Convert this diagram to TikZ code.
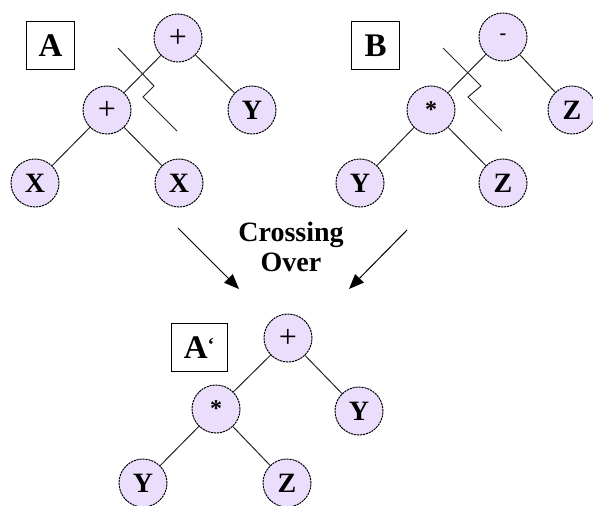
\documentclass[tikz,border=0pt]{standalone}
\usepackage{fontspec}
\setmainfont{Liberation Serif}
\usetikzlibrary{arrows.meta}
\definecolor{nodefill}{RGB}{234,222,252}
\tikzset{
  tn/.style={circle, draw=black, fill=nodefill, line width=1pt,
    dash pattern=on 2.2pt off 0.8pt, minimum size=48pt, inner sep=0pt,
    font=\fontsize{28}{28}\selectfont\bfseries},
  op/.style={font=\fontsize{32}{32}\selectfont},
  lbl/.style={draw=black, line width=1pt, minimum width=48pt, minimum height=48pt,
    inner sep=0pt, font=\fontsize{33}{33}\selectfont\bfseries},
  edge/.style={line width=1pt, draw=black!85},
  cut/.style={line width=1pt, draw=black!85},
  arr/.style={line width=1pt, -{Triangle[length=15pt,width=12pt]}},
}
\begin{document}
\begin{tikzpicture}[x=1pt,y=-1pt]
\useasboundingbox (0,0) rectangle (593,505);
% Tree A
\node[lbl] (boxA) at (50.5,46) {A};
\node[tn,op] (a1) at (178,38) {+};
\node[tn,op] (a2) at (107,110) {+};
\node[tn] (a3) at (252,110) {Y};
\node[tn] (a4) at (35,183) {X};
\node[tn] (a5) at (179,183) {X};
\draw[edge] (a1) -- (a2);
\draw[edge] (a1) -- (a3);
\draw[edge] (a2) -- (a4);
\draw[edge] (a2) -- (a5);
\coordinate (ca1) at (118,48);
\coordinate (ca2) at (154,86);
\coordinate (ca3) at (143,97);
\coordinate (ca4) at (177,131);
\draw[cut] (ca1) -- (ca2) -- (ca3) -- (ca4);
% Tree B
\node[lbl] (boxB) at (375.5,46) {B};
\node[tn,font=\fontsize{20}{20}\selectfont\bfseries] (b1) at (503,37) {-};
\node[tn,font=\fontsize{24}{24}\selectfont\bfseries] (b2) at (431,110) {\raisebox{-6pt}{*}};
\node[tn] (b3) at (572,110) {Z};
\node[tn] (b4) at (360,183) {Y};
\node[tn] (b5) at (503,183) {Z};
\draw[edge] (b1) -- (b2);
\draw[edge] (b1) -- (b3);
\draw[edge] (b2) -- (b4);
\draw[edge] (b2) -- (b5);
\coordinate (cb1) at (443,48);
\coordinate (cb2) at (481,86);
\coordinate (cb3) at (468,97);
\coordinate (cb4) at (502,131);
\draw[cut] (cb1) -- (cb2) -- (cb3) -- (cb4);
% Crossing over
\node[font=\fontsize{28}{30}\selectfont\bfseries, align=center] (cross) at (291,247) {Crossing\\Over};
\coordinate (l1) at (178,228);
\coordinate (l2) at (239,289);
\coordinate (r1) at (407,230);
\coordinate (r2) at (349,289);
\draw[arr] (l1) -- (l2);
\draw[arr] (r1) -- (r2);
% Tree A'
\node[lbl, minimum width=56pt] (boxC) at (199,347.5) {A\raisebox{7pt}{\fontsize{20}{20}\selectfont`}};
\node[tn,op] (c1) at (288,338) {+};
\node[tn,font=\fontsize{24}{24}\selectfont\bfseries] (c2) at (216,409) {\raisebox{-6pt}{*}};
\node[tn] (c3) at (359,411) {Y};
\node[tn] (c4) at (143,483) {Y};
\node[tn] (c5) at (287,483) {Z};
\draw[edge] (c1) -- (c2);
\draw[edge] (c1) -- (c3);
\draw[edge] (c2) -- (c4);
\draw[edge] (c2) -- (c5);
\end{tikzpicture}
\end{document}
